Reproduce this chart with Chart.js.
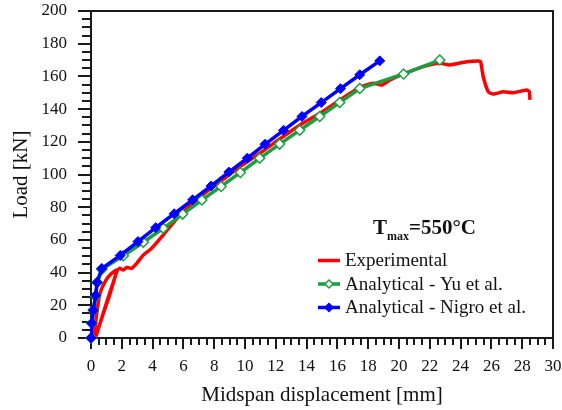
<!DOCTYPE html>
<html>
<head>
<meta charset="utf-8">
<script src="https://cdn.jsdelivr.net/npm/chart.js@4.4.0/dist/chart.umd.min.js"></script>
<style>
  html, body { margin: 0; padding: 0; background: #fff; }
</style>
</head>
<body>
<canvas id="chart" width="562" height="410"></canvas>
<script>
// Experimental curve: midspan displacement [mm] / load [kN]
const expX = [0.25, 0.3, 0.43, 0.58, 0.91, 1.23, 1.67, 1.55, 1.2, 0.8, 0.45, 0.28, 0.36, 0.8, 1.25, 1.72, 1.88, 2.1, 2.32, 2.64, 2.97, 3.4, 3.94, 4.69, 5.78, 7.08, 8.38, 9.68, 10.97, 12.3, 13.57, 14.87, 16.17, 17.47, 18.33, 18.88, 19.42, 20.3, 21.58, 22.66, 23.3, 24.4, 25.15, 25.3, 25.47, 25.8, 26.12, 26.77, 27.42, 28.29, 28.46, 28.5];
const expY = [0, 9, 19, 27.3, 34.4, 38.5, 41.6, 37, 26, 15, 5, 1, 2, 15.5, 28.5, 41.5, 42.6, 41.6, 43.2, 42.6, 45.7, 50.8, 54.9, 63, 75.2, 86.4, 95.6, 104.8, 113, 122, 130.3, 137.4, 145.6, 153.3, 155.8, 154.7, 157.8, 161.5, 166, 168, 167, 169, 169.4, 169, 159.8, 150.6, 149.2, 150.6, 150, 151.7, 150.6, 145.6];

// Analytical - Yu et al.
const yuX = [0, 0.05, 0.15, 0.3, 0.4, 0.7, 2.1, 3.4, 4.69, 5.95, 7.2, 8.45, 9.7, 10.95, 12.25, 13.55, 14.85, 16.15, 17.45, 20.3, 22.65];
const yuY = [0, 9, 17, 25.5, 34, 42, 50.3, 58.6, 67.1, 75.8, 84.4, 92.7, 101.2, 109.9, 118.6, 127.1, 135.5, 144, 152.6, 161.5, 170];

// Analytical - Nigro et al.
const nigroX = [0, 0.05, 0.15, 0.3, 0.4, 0.7, 1.9, 3.05, 4.2, 5.4, 6.6, 7.8, 8.95, 10.15, 11.3, 12.5, 13.7, 14.95, 16.2, 17.45, 18.75];
const nigroY = [0, 9, 17, 26, 34, 42.5, 50.5, 59, 67.5, 76, 84.5, 93, 101.5, 110, 118.5, 127, 135.5, 144, 152.5, 161, 169.5];

const seriesNames = ['Experimental', 'Analytical - Yu et al.', 'Analytical - Nigro et al.'];
const seriesColors = ['#ff0000', '#1b9e3e', '#0000ff'];
const xRange = [0, 30], xMajor = 2, xMinor = 0.5;
const yRange = [0, 200], yMajor = 20, yMinor = 5;
const xTitle = 'Midspan displacement [mm]';
const yTitle = 'Load [kN]';

const serif = '"Liberation Serif", "Times New Roman", serif';

function toPoints(xs, ys) {
    return xs.map((x, i) => ({ x: x, y: ys[i] }));
}

function isMajor(v, step) {
    return Math.abs(v / step - Math.round(v / step)) < 1e-6;
}

// axis frame and outward tick marks (major + minor)
const framePlugin = {
    id: 'frame',
    beforeDatasetsDraw(chart) {
        const ctx = chart.ctx;
        const a = chart.chartArea;
        const xs = chart.scales.x, ys = chart.scales.y;
        ctx.save();
        ctx.strokeStyle = '#1a1a1a';
        ctx.lineWidth = 2;
        ctx.strokeRect(a.left, a.top, a.right - a.left, a.bottom - a.top);
        ctx.beginPath();
        xs.ticks.forEach(t => {
            const px = Math.round(xs.getPixelForValue(t.value));
            const len = isMajor(t.value, xMajor) ? 11 : 7;
            ctx.moveTo(px, a.bottom);
            ctx.lineTo(px, a.bottom + len);
        });
        ys.ticks.forEach(t => {
            const py = Math.round(ys.getPixelForValue(t.value));
            const len = isMajor(t.value, yMajor) ? 13 : 9;
            ctx.moveTo(a.left, py);
            ctx.lineTo(a.left - len, py);
        });
        ctx.stroke();
        ctx.restore();
    }
};

function diamond(ctx, x, y, r, fill, stroke) {
    ctx.beginPath();
    ctx.moveTo(x, y - r);
    ctx.lineTo(x + r, y);
    ctx.lineTo(x, y + r);
    ctx.lineTo(x - r, y);
    ctx.closePath();
    ctx.fillStyle = fill;
    ctx.fill();
    ctx.strokeStyle = stroke;
    ctx.lineWidth = 1.5;
    ctx.stroke();
}

const legendPlugin = {
    id: 'boxLegend',
    afterDraw(chart) {
        const ctx = chart.ctx;
        ctx.save();
        ctx.fillStyle = '#111';
        ctx.textBaseline = 'alphabetic';
        ctx.textAlign = 'left';
        let x = 373;
        ctx.font = 'bold 21px ' + serif;
        ctx.fillText('T', x, 234);
        x += ctx.measureText('T').width;
        ctx.font = 'bold 12px ' + serif;
        ctx.fillText('max', x, 240);
        x += ctx.measureText('max').width;
        ctx.font = 'bold 21px ' + serif;
        ctx.fillText('=550°C', x, 234);

        const rows = [260.5, 284, 307.5];
        ctx.font = '19px ' + serif;
        ctx.textBaseline = 'middle';
        seriesNames.forEach((name, i) => {
            const y = rows[i];
            ctx.strokeStyle = seriesColors[i];
            ctx.lineWidth = 3.5;
            ctx.beginPath();
            ctx.moveTo(318, y);
            ctx.lineTo(340, y);
            ctx.stroke();
            if (i === 1) diamond(ctx, 329, y, 4, '#ffffff', seriesColors[i]);
            if (i === 2) diamond(ctx, 329, y, 4, seriesColors[i], seriesColors[i]);
            ctx.fillStyle = '#111';
            ctx.fillText(name, 345, y + 1);
        });
        ctx.restore();
    }
};

const config = {
    type: 'scatter',
    data: {
        datasets: [
            {
                label: seriesNames[0],
                data: toPoints(expX, expY),
                showLine: true,
                borderColor: seriesColors[0],
                backgroundColor: seriesColors[0],
                borderWidth: 3.5,
                pointRadius: 0,
                tension: 0.2,
                order: 3,
                clip: false
            },
            {
                label: seriesNames[1],
                data: toPoints(yuX, yuY),
                showLine: true,
                borderColor: seriesColors[1],
                backgroundColor: '#ffffff',
                borderWidth: 3.5,
                pointStyle: 'rectRot',
                pointRadius: 5,
                pointBorderWidth: 1.5,
                pointBorderColor: seriesColors[1],
                pointBackgroundColor: '#ffffff',
                order: 2,
                clip: false
            },
            {
                label: seriesNames[2],
                data: toPoints(nigroX, nigroY),
                showLine: true,
                borderColor: seriesColors[2],
                backgroundColor: seriesColors[2],
                borderWidth: 3.5,
                pointStyle: 'rectRot',
                pointRadius: 5,
                pointBorderWidth: 1,
                pointBackgroundColor: seriesColors[2],
                order: 1,
                clip: false
            }
        ]
    },
    options: {
        responsive: false,
        animation: false,
        devicePixelRatio: 1,
        layout: { padding: { top: 11, right: 9, left: 0, bottom: 0 } },
        plugins: {
            legend: { display: false },
            tooltip: { enabled: false }
        },
        scales: {
            x: {
                type: 'linear',
                min: xRange[0],
                max: xRange[1],
                grid: { display: false, drawTicks: false },
                border: { display: false },
                ticks: {
                    stepSize: xMinor,
                    autoSkip: false,
                    maxRotation: 0,
                    padding: 18,
                    color: '#111',
                    font: { family: serif, size: 17 },
                    callback: v => isMajor(v, xMajor) ? String(Math.round(v)) : ''
                },
                title: {
                    display: true,
                    text: xTitle,
                    color: '#111',
                    font: { family: serif, size: 21 },
                    padding: { top: 0, bottom: 2 }
                },
                afterFit: s => {
                    s.height = 72;
                    s.paddingLeft = 0;
                    s.paddingRight = 0;
                }
            },
            y: {
                type: 'linear',
                min: yRange[0],
                max: yRange[1],
                grid: { display: false, drawTicks: false },
                border: { display: false },
                ticks: {
                    stepSize: yMinor,
                    autoSkip: false,
                    padding: 24,
                    color: '#111',
                    font: { family: serif, size: 17 },
                    callback: v => isMajor(v, yMajor) ? String(Math.round(v)) : ''
                },
                title: {
                    display: true,
                    text: yTitle,
                    color: '#111',
                    font: { family: serif, size: 21 },
                    padding: { top: 9, bottom: 0 }
                },
                afterFit: s => {
                    s.width = 91;
                    s.paddingTop = 0;
                    s.paddingBottom = 0;
                }
            }
        }
    },
    plugins: [framePlugin, legendPlugin]
};

const ctx = document.getElementById('chart').getContext('2d');
const myChart = new Chart(ctx, config);
</script>
</body>
</html>
